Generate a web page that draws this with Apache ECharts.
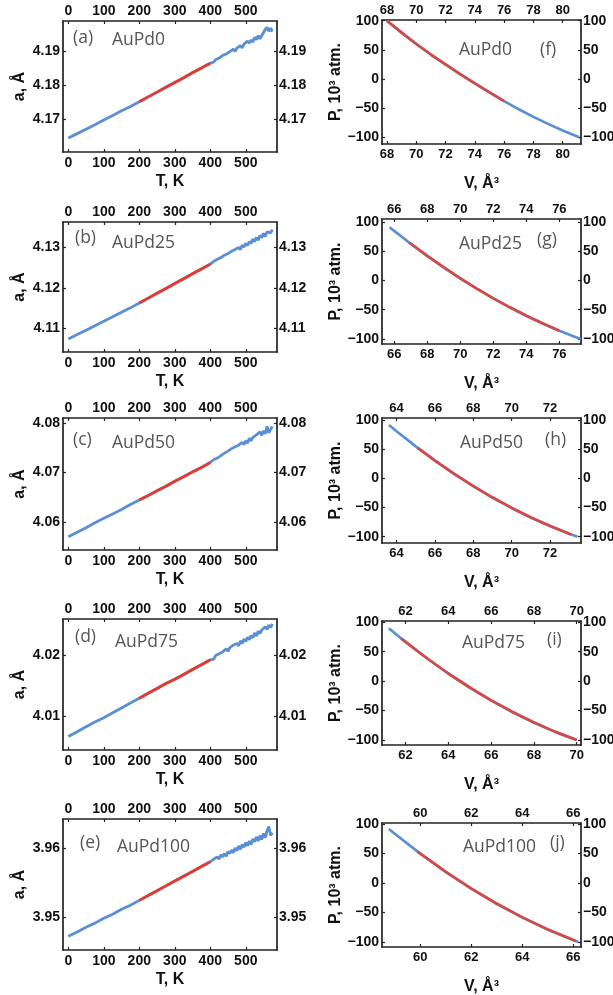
<!DOCTYPE html>
<html>
<head>
<meta charset="utf-8">
<script src="https://cdn.jsdelivr.net/npm/echarts@6/dist/echarts.min.js"></script>
<style>
  html, body { margin: 0; padding: 0; background: #fff; }
  #chart { width: 613px; height: 995px; }
</style>
</head>
<body>
<div id="chart"></div>
<script>
// ---- Lattice parameter a(T), Å ----
const tSmooth = [0, 25, 50, 75, 100, 125, 150, 175, 200, 225, 250, 275, 300, 325, 350, 375, 400];
const tNoisy = [405, 410, 415, 420, 425, 430, 435, 440, 445, 450, 455, 460, 465, 470, 475, 480, 485, 490,
                495, 500, 505, 510, 515, 520, 525, 530, 535, 540, 545, 550, 555, 560, 565, 570, 575];
const fitT = [200, 400];

const aLow0 = [4.1644, 4.1657, 4.1670, 4.1683, 4.1697, 4.1710, 4.1724, 4.1737, 4.1751, 4.1765, 4.1779, 4.1793, 4.1807, 4.1821, 4.1836, 4.1850, 4.1864];
const aHigh0 = [4.1864, 4.1868, 4.1874, 4.1871, 4.1879, 4.1879, 4.1887, 4.1883, 4.1891, 4.1888, 4.1898, 4.1896, 4.1905, 4.1899, 4.1908, 4.1906, 4.1916, 4.1909,
                4.1920, 4.1916, 4.1929, 4.1923, 4.1932, 4.1926, 4.1940, 4.1933, 4.1945, 4.1936, 4.1937, 4.1954, 4.1963, 4.1969, 4.1958, 4.1967, 4.1957];

const aLow25 = [4.1074, 4.1085, 4.1096, 4.1107, 4.1118, 4.1129, 4.1140, 4.1151, 4.1163, 4.1175, 4.1187, 4.1199, 4.1211, 4.1223, 4.1235, 4.1247, 4.1259];
const aHigh25 = [4.1260, 4.1266, 4.1264, 4.1271, 4.1268, 4.1275, 4.1274, 4.1281, 4.1277, 4.1285, 4.1283, 4.1291, 4.1287, 4.1295, 4.1292, 4.1300, 4.1295, 4.1306,
                 4.1301, 4.1310, 4.1305, 4.1315, 4.1310, 4.1321, 4.1314, 4.1325, 4.1318, 4.1330, 4.1324, 4.1335, 4.1327, 4.1339, 4.1339, 4.1336, 4.1344];

const aLow50 = [4.0570, 4.0579, 4.0588, 4.0598, 4.0607, 4.0616, 4.0625, 4.0635, 4.0644, 4.0653, 4.0663, 4.0672, 4.0682, 4.0691, 4.0701, 4.0710, 4.0720];
const aHigh50 = [4.0721, 4.0726, 4.0724, 4.0729, 4.0728, 4.0734, 4.0732, 4.0739, 4.0736, 4.0743, 4.0740, 4.0748, 4.0745, 4.0752, 4.0748, 4.0755, 4.0752, 4.0761,
                 4.0756, 4.0764, 4.0759, 4.0769, 4.0764, 4.0771, 4.0767, 4.0776, 4.0772, 4.0782, 4.0775, 4.0784, 4.0778, 4.0793, 4.0780, 4.0787, 4.0793];

const aLow75 = [4.0066, 4.0074, 4.0082, 4.0090, 4.0097, 4.0105, 4.0113, 4.0121, 4.0129, 4.0137, 4.0145, 4.0153, 4.0160, 4.0168, 4.0176, 4.0184, 4.0192];
const aHigh75 = [4.0195, 4.0193, 4.0199, 4.0197, 4.0202, 4.0200, 4.0205, 4.0203, 4.0210, 4.0206, 4.0212, 4.0209, 4.0216, 4.0213, 4.0219, 4.0215, 4.0223, 4.0219,
                 4.0226, 4.0222, 4.0229, 4.0225, 4.0232, 4.0228, 4.0236, 4.0231, 4.0239, 4.0235, 4.0241, 4.0238, 4.0246, 4.0242, 4.0249, 4.0245, 4.0251];

const aLow100 = [3.9472, 3.9478, 3.9485, 3.9491, 3.9498, 3.9504, 3.9511, 3.9517, 3.9524, 3.9531, 3.9538, 3.9545, 3.9552, 3.9559, 3.9566, 3.9573, 3.9580];
const aHigh100 = [3.9580, 3.9584, 3.9582, 3.9587, 3.9584, 3.9590, 3.9587, 3.9592, 3.9588, 3.9595, 3.9592, 3.9597, 3.9593, 3.9600, 3.9596, 3.9603, 3.9598, 3.9605,
                  3.9601, 3.9608, 3.9603, 3.9610, 3.9605, 3.9613, 3.9609, 3.9616, 3.9610, 3.9618, 3.9612, 3.9621, 3.9615, 3.9625, 3.9631, 3.9618, 3.9622];

// ---- Equation of state P(V), 10^3 atm ----
const vol0 = [68, 69, 70, 71, 72, 73, 74, 75, 76, 77, 78, 79, 80, 81, 81.1];
const pres0 = [100, 79.5, 60, 42, 25, 8.5, -7.5, -23, -38, -52, -65, -77, -88.5, -98.5, -99.8];
const fitV0 = [68, 76];

const vol25 = [65.72, 66, 66.9, 67, 68, 69, 70, 71, 72, 73, 74, 75, 76, 77, 77.3];
const pres25 = [91, 84.7, 64.9, 62.8, 42, 22.3, 3.6, -14, -30.5, -45.9, -60.3, -73.5, -85.8, -96.9, -100];
const fitV25 = [66.9, 76];

const vol50 = [63.6, 64, 65, 65.1, 66, 67, 68, 69, 70, 71, 72, 73, 73.1, 73.43];
const pres50 = [91.4, 80.6, 54.7, 52.2, 30.4, 7.7, -13.4, -32.9, -50.7, -67, -81.7, -94.8, -96, -100];
const fitV50 = [65.1, 73.1];

const vol75 = [61.22, 61.8, 62, 63, 64, 65, 66, 67, 68, 69, 70];
const pres75 = [89.8, 72.5, 66.7, 38.9, 13, -10.8, -32.7, -52.5, -70.3, -86.2, -100];
const fitV75 = [61.8, 70];

const vol100 = [58.77, 59, 59.9, 60, 61, 62, 63, 64, 65, 66, 66.1, 66.2];
const pres100 = [91.5, 83.4, 53.1, 49.9, 18.9, -9.4, -35.2, -58.3, -78.8, -96.8, -98.4, -100];
const fitV100 = [59.9, 66.1];

// ---- Tick values ----
const tTicks = [0, 100, 200, 300, 400, 500];
const aTicks0 = [4.17, 4.18, 4.19];
const aTicks25 = [4.11, 4.12, 4.13];
const aTicks50 = [4.06, 4.07, 4.08];
const aTicks75 = [4.01, 4.02];
const aTicks100 = [3.95, 3.96];
const pTicks = [-100, -50, 0, 50, 100];
const vTicks0 = [68, 70, 72, 74, 76, 78, 80];
const vTicks25 = [66, 68, 70, 72, 74, 76];
const vTicks50 = [64, 66, 68, 70, 72];
const vTicks75 = [62, 64, 66, 68, 70];
const vTicks100 = [60, 62, 64, 66];

const alloys = ['AuPd0', 'AuPd25', 'AuPd50', 'AuPd75', 'AuPd100'];
const leftTags = ['(a)', '(b)', '(c)', '(d)', '(e)'];
const rightTags = ['(f)', '(g)', '(h)', '(i)', '(j)'];

// ---- Layout ----
const FONT = '"Liberation Sans", Arial, sans-serif';
const BLUE = '#5b8fd4';
const RED_L = '#e43a30';
const RED_R = '#d44a46';
const INK = '#222';

const leftPanels = [
  { top: 21,  height: 131, xr: [-15, 588], yr: [4.1603, 4.1988], ticks: aTicks0,   low: aLow0,   high: aHigh0 },
  { top: 222, height: 130, xr: [-15, 588], yr: [4.1042, 4.1363], ticks: aTicks25,  low: aLow25,  high: aHigh25 },
  { top: 418, height: 132, xr: [-15, 588], yr: [4.0543, 4.0810], ticks: aTicks50,  low: aLow50,  high: aHigh50 },
  { top: 619, height: 131, xr: [-15, 588], yr: [4.0044, 4.0259], ticks: aTicks75,  low: aLow75,  high: aHigh75 },
  { top: 819, height: 131, xr: [-15, 588], yr: [3.9452, 3.9642], ticks: aTicks100, low: aLow100, high: aHigh100 }
];
const rightPanels = [
  { top: 20,  height: 124, xr: [67.66, 81.25], yr: [-111.5, 101.2], vt: vTicks0,   v: vol0,   p: pres0,   fit: fitV0 },
  { top: 219, height: 125, xr: [65.26, 77.31], yr: [-108.6, 105.1], vt: vTicks25,  v: vol25,  p: pres25,  fit: fitV25 },
  { top: 418, height: 125, xr: [63.24, 73.61], yr: [-110.8, 103.4], vt: vTicks50,  v: vol50,  p: pres50,  fit: fitV50 },
  { top: 621, height: 124, xr: [60.90, 70.20], yr: [-108.5, 102.2], vt: vTicks75,  v: vol75,  p: pres75,  fit: fitV75 },
  { top: 823, height: 124, xr: [58.50, 66.30], yr: [-108.5, 101.7], vt: vTicks100, v: vol100, p: pres100, fit: fitV100 }
];

const leftTagPos = [[73, 38.5, 112, 40], [75, 238, 112, 243], [73, 440, 112, 443], [75, 637, 115, 642], [80, 843, 117, 847]];
const rightTagPos = [[540, 50, 459, 50], [537, 240, 459, 244], [545, 440, 460, 443], [547, 640, 462, 643], [550, 843, 463, 847]];

const minusFmt = v => (v < 0 ? '\u2212' + Math.abs(v) : String(v));

function axisBase(gi, pos, range, ticks, fontSize, fmt, margin) {
  return {
    type: 'value', gridIndex: gi, position: pos,
    min: range[0], max: range[1],
    axisLine: { show: true, onZero: false, lineStyle: { color: INK, width: 1.7 } },
    axisTick: { show: true, inside: true, length: 3, customValues: ticks, lineStyle: { color: INK, width: 1.2 } },
    axisLabel: { customValues: ticks, formatter: fmt, fontSize: fontSize, fontWeight: 'bold',
                 color: '#111', fontFamily: FONT, margin: margin },
    splitLine: { show: false }
  };
}
function withName(ax, text, gap, rotate) {
  ax.name = text;
  ax.nameLocation = 'middle';
  ax.nameGap = gap;
  if (rotate) ax.nameRotate = rotate;
  ax.nameTextStyle = { fontSize: 16, fontWeight: 'bold', color: '#111', fontFamily: FONT };
  return ax;
}

const grids = [], xAxes = [], yAxes = [], series = [], graphics = [];

leftPanels.forEach((pn, i) => {
  const gi = grids.length;
  grids.push({ left: 63, width: 214, top: pn.top, height: pn.height, outerBoundsMode: 'none', containLabel: false });
  const intFmt = v => String(v);
  const aFmt = v => v.toFixed(2);
  xAxes.push(withName(axisBase(gi, 'bottom', pn.xr, tTicks, 14, intFmt, 4), 'T, K', 22));
  xAxes.push(axisBase(gi, 'top', pn.xr, tTicks, 14, intFmt, 3));
  yAxes.push(withName(axisBase(gi, 'left', pn.yr, pn.ticks, 14, aFmt, 3), 'a, \u00C5', 35, 90));
  yAxes.push(axisBase(gi, 'right', pn.yr, pn.ticks, 14, aFmt, 2));

  const tAll = tSmooth.concat(tNoisy);
  const aAll = pn.low.concat(pn.high);
  const full = tAll.map((t, k) => [t, aAll[k]]);
  const fit = full.filter(d => d[0] >= fitT[0] && d[0] <= fitT[1]);
  const xi = xAxes.length - 2, yi = yAxes.length - 2;
  series.push({ type: 'line', xAxisIndex: xi, yAxisIndex: yi, data: full, showSymbol: false,
                lineStyle: { color: BLUE, width: 2.8 }, z: 2, silent: true });
  series.push({ type: 'line', xAxisIndex: xi, yAxisIndex: yi, data: fit, showSymbol: false,
                lineStyle: { color: RED_L, width: 2.8 }, z: 3, silent: true });

  const tp = leftTagPos[i];
  graphics.push({ type: 'text', x: tp[0], y: tp[1], style: { text: leftTags[i], font: '17.5px "Open Sans"', fill: '#555', verticalAlign: 'middle', align: 'left' } });
  graphics.push({ type: 'text', x: tp[2], y: tp[3], style: { text: alloys[i], font: '17.5px "Open Sans"', fill: '#555', verticalAlign: 'middle', align: 'left' } });
});

rightPanels.forEach((pn, i) => {
  const gi = grids.length;
  grids.push({ left: 382, width: 199, top: pn.top, height: pn.height, outerBoundsMode: 'none', containLabel: false });
  const intFmt = v => String(v);
  xAxes.push(withName(axisBase(gi, 'bottom', pn.xr, pn.vt, 13, intFmt, 4), 'V, \u00C5\u00B3', 32));
  xAxes.push(axisBase(gi, 'top', pn.xr, pn.vt, 13, intFmt, 3));
  yAxes.push(withName(axisBase(gi, 'left', pn.yr, pTicks, 14, minusFmt, 3), 'P, 10\u00B3 atm.', 34, 90));
  yAxes.push(axisBase(gi, 'right', pn.yr, pTicks, 14, minusFmt, 2));

  const full = pn.v.map((v, k) => [v, pn.p[k]]);
  const fit = full.filter(d => d[0] >= pn.fit[0] && d[0] <= pn.fit[1]);
  const xi = xAxes.length - 2, yi = yAxes.length - 2;
  series.push({ type: 'line', xAxisIndex: xi, yAxisIndex: yi, data: full, showSymbol: false,
                lineStyle: { color: BLUE, width: 2.7 }, z: 2, silent: true });
  series.push({ type: 'line', xAxisIndex: xi, yAxisIndex: yi, data: fit, showSymbol: false,
                lineStyle: { color: RED_R, width: 2.7 }, z: 3, silent: true });

  const tp = rightTagPos[i];
  graphics.push({ type: 'text', x: tp[2], y: tp[3], style: { text: alloys[i], font: '17.5px "Open Sans"', fill: '#555', verticalAlign: 'middle', align: 'left' } });
  graphics.push({ type: 'text', x: tp[0], y: tp[1], style: { text: rightTags[i], font: '17.5px "Open Sans"', fill: '#555', verticalAlign: 'middle', align: 'left' } });
});

const chart = echarts.init(document.getElementById('chart'), null, { renderer: 'canvas' });
chart.setOption({
  animation: false,
  backgroundColor: '#fff',
  grid: grids,
  xAxis: xAxes,
  yAxis: yAxes,
  series: series,
  graphic: graphics
});
</script>
</body>
</html>
